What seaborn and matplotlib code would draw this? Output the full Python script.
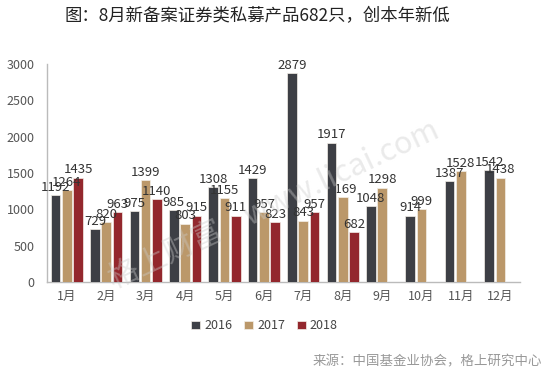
import numpy as np
import pandas as pd
import matplotlib
matplotlib.use("Agg")
import matplotlib.pyplot as plt
import seaborn as sns

# 数据
months = ['1月', '2月', '3月', '4月', '5月', '6月', '7月', '8月', '9月', '10月', '11月', '12月']
v2016 = [1192, 729, 975, 985, 1308, 1429, 2879, 1917, 1048, 914, 1387, 1542]
v2017 = [1264, 820, 1399, 803, 1155, 957, 843, 1169, 1298, 999, 1528, 1438]
v2018 = [1435, 963, 1140, 915, 911, 823, 957, 682, np.nan, np.nan, np.nan, np.nan]
years = ['2016', '2017', '2018']
colors = ['#3c3f46', '#c99a5c', '#a5151d']

df = pd.DataFrame({
    'month': months * 3,
    'year': [y for y in years for _ in months],
    'value': v2016 + v2017 + v2018,
})

sns.set_style('white')
plt.rcParams['font.family'] = ['Noto Sans CJK SC', 'DejaVu Sans']

fig = plt.figure(figsize=(5.48, 3.73), dpi=100)
ax = fig.add_axes([0.086, 0.244, 0.863, 0.584])

sns.barplot(data=df, x='month', y='value', hue='year', palette=colors,
            width=0.86, gap=0.15, ax=ax, legend=True, zorder=3,
            edgecolor='#f4efe8', linewidth=0.5)

for i, cont in enumerate(ax.containers):
    labels = ['' if np.isnan(v) else f'{int(v)}' for v in cont.datavalues]
    texts = ax.bar_label(cont, labels=labels, fontsize=9.5, color='#333333', padding=1)
    for t in texts:
        t.set_zorder(5)
    # 8月2017的标签被相邻柱子遮住一部分
    if i == 1:
        texts[7].set_zorder(2)

ax.set_ylim(0, 3000)
ax.set_yticks(range(0, 3001, 500))
ax.set_xlabel('')
ax.set_ylabel('')
ax.tick_params(axis='both', labelsize=9, colors='#555555')
ax.tick_params(axis='y', length=4, color='#bbbbbb', direction='in', pad=9)
ax.tick_params(axis='x', length=0, pad=6)
ax.set_xticks(np.arange(-0.5, 12.5, 1), minor=True)
ax.tick_params(axis='x', which='minor', length=4, color='#bbbbbb', direction='out')
for s in ['top', 'right']:
    ax.spines[s].set_visible(False)
for s in ['left', 'bottom']:
    ax.spines[s].set_color('#bbbbbb')
    ax.spines[s].set_linewidth(1)
ax.set_xlim(-0.5, 11.5)

ax.legend(loc='upper center', bbox_to_anchor=(0.46, -0.12), ncol=3, frameon=False,
          fontsize=9, handlelength=0.7, handleheight=0.7, handletextpad=0.3,
          columnspacing=1.0, labelcolor='#444444')

# 水印
fig.text(0.5, 0.45, '格上财富    www.licai.com', fontsize=22, color='#cccccc',
         alpha=0.4, rotation=25, ha='center', va='center')

fig.text(0.47, 0.958, '图：8月新备案证券类私募产品682只，创本年新低', fontsize=12.5,
         ha='center', va='center', color='#222222')
fig.text(0.99, 0.03, '来源：中国基金业协会，格上研究中心', fontsize=9.7,
         ha='right', va='center', color='#999999')

fig.savefig('out.png', dpi=100)
